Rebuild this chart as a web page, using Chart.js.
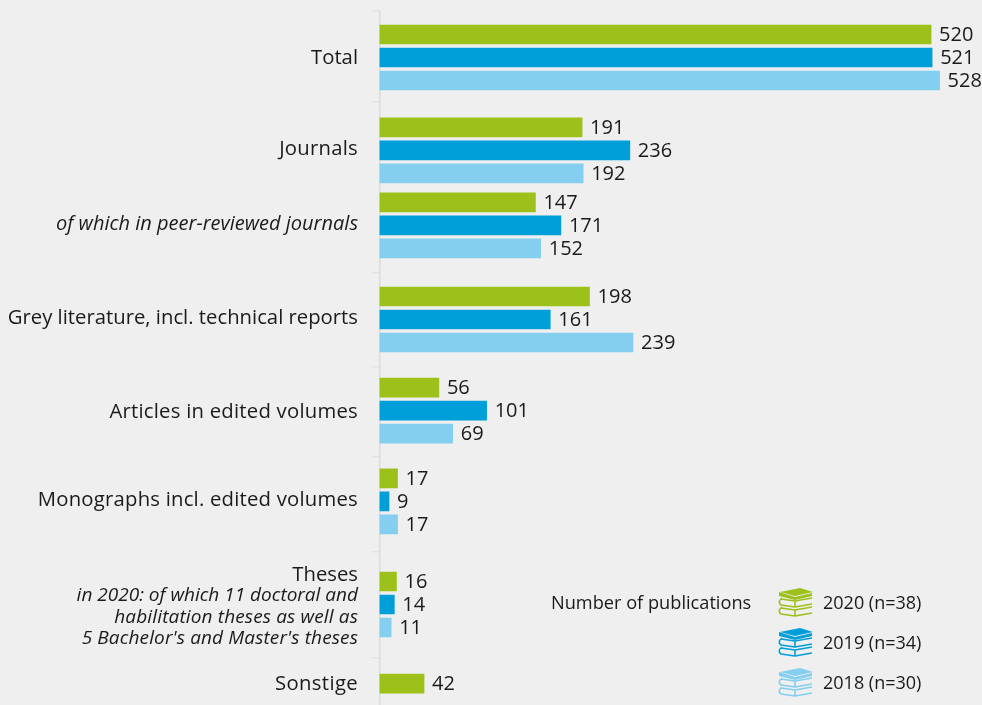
<!DOCTYPE html>
<html>
<head>
<meta charset="utf-8">
<style>
html, body { margin: 0; padding: 0; background: #efefef; overflow: hidden; }
#wrap { width: 982px; height: 705px; }
</style>
<script src="https://cdn.jsdelivr.net/npm/chart.js@4/dist/chart.umd.min.js"></script>
</head>
<body>
<div id="wrap"><canvas id="chart" width="982" height="705"></canvas></div>
<script>
// Categories and values
const categories = ['Total', 'Journals', 'of which in peer-reviewed journals',
    'Grey literature, incl. technical reports', 'Articles in edited volumes',
    'Monographs incl. edited volumes', 'Theses', 'Sonstige'];
const thesesNotes = ['in 2020: of which 11 doctoral and', 'habilitation theses as well as', "5 Bachelor's and Master's theses"];
const values2020 = [520, 191, 147, 198, 56, 17, 16, 42];
const values2019 = [521, 236, 171, 161, 101, 9, 14, null];
const values2018 = [528, 192, 152, 239, 69, 17, 11, null];
const legendTitle = 'Number of publications';
const seriesLabels = ['2020 (n=38)', '2019 (n=34)', '2018 (n=30)'];

// Groups are not evenly spaced in the original, so the y axis is linear (1 unit = one bar pitch)
const groupSlots = [0, 4.04, 7.3, 11.39, 15.35, 19.3, 23.78, 27.22];
const separatorSlots = [-2.02, 1.93, 9.37, 13.46, 17.37, 21.5, 26.11];
// Small vertical shift of each category name against its group, in px
const labelNudge = [0, -2, -2, -2, 1, -2, -30, 0];
// Letter spacing per name, so the text runs as wide as in the original
const labelSpacing = [0, 0.25, 0, 0, 0.24, 0.22, 0, 0.35];
const noteSpacing = [0, 0.14, 0.13];

const colors = ['#9dc11a', '#009fd9', '#84cfef'];
const textColor = '#1a1a1a';
const fontFamily = '"Open Sans", "Noto Sans", sans-serif';

// A group with only one bar keeps that bar on the group centre
function barPoints(values, shift) {
    return values.map((v, i) => ({
        x: v,
        y: groupSlots[i] + (values2019[i] === null ? 0 : shift)
    }));
}

// Category names left of the axis
const categoryLabels = {
    id: 'categoryLabels',
    afterDraw(chart) {
        const { ctx, scales: { y } } = chart;
        ctx.save();
        ctx.textAlign = 'right';
        ctx.textBaseline = 'middle';
        ctx.fillStyle = textColor;
        categories.forEach((name, i) => {
            const py = y.getPixelForValue(groupSlots[i]) + labelNudge[i] + 1;
            ctx.font = (i === 2 ? 'italic 20px ' : '20.3px ') + fontFamily;
            ctx.letterSpacing = labelSpacing[i] + 'px';
            ctx.fillText(name, 358, py);
        });
        ctx.font = 'italic 19px ' + fontFamily;
        const base = y.getPixelForValue(groupSlots[6]);
        thesesNotes.forEach((line, i) => {
            ctx.letterSpacing = noteSpacing[i] + 'px';
            ctx.fillText(line, 358, base - 9 + i * 21.7);
        });
        ctx.restore();
    }
};

// Values at the end of each bar
const valueLabels = {
    id: 'valueLabels',
    afterDatasetsDraw(chart) {
        const { ctx } = chart;
        ctx.save();
        ctx.font = '20px ' + fontFamily;
        ctx.fillStyle = textColor;
        ctx.textBaseline = 'middle';
        chart.data.datasets.forEach((ds, d) => {
            chart.getDatasetMeta(d).data.forEach((bar, i) => {
                if (ds.data[i].x === null) return;
                ctx.fillText(ds.data[i].x, bar.x + 8, bar.y + 1);
            });
        });
        ctx.restore();
    }
};

// Stack of three books, used as legend key
function drawBooks(ctx, x, y, color) {
    ctx.save();
    ctx.translate(x, y);
    ctx.strokeStyle = color;
    ctx.fillStyle = color;
    ctx.lineWidth = 1.6;
    ctx.lineJoin = 'round';
    // top cover and spine
    ctx.beginPath();
    ctx.moveTo(2, 4); ctx.lineTo(22, 0); ctx.lineTo(35, 4); ctx.lineTo(17, 8);
    ctx.closePath();
    ctx.fill();
    ctx.beginPath();
    ctx.moveTo(1, 4); ctx.lineTo(1, 8); ctx.lineTo(17, 12); ctx.lineTo(34, 8); ctx.lineTo(34, 5); ctx.lineTo(17, 9);
    ctx.closePath();
    ctx.fill();
    // two open books below
    [10, 19].forEach(top => {
        ctx.beginPath();
        ctx.moveTo(4, top);
        ctx.quadraticCurveTo(-1, top + 4, 3, top + 7);
        ctx.lineTo(17, top + 9);
        ctx.lineTo(34, top + 6);
        ctx.moveTo(17, top + 3);
        ctx.lineTo(34, top);
        ctx.moveTo(3, top + 1);
        ctx.lineTo(17, top + 3);
        ctx.lineTo(17, top + 9);
        ctx.stroke();
    });
    ctx.restore();
}

const legendBlock = {
    id: 'legendBlock',
    afterDraw(chart) {
        const { ctx } = chart;
        ctx.save();
        ctx.font = '18.2px ' + fontFamily;
        ctx.fillStyle = textColor;
        ctx.textBaseline = 'middle';
        ctx.fillText(legendTitle, 551, 604);
        ctx.font = '18px ' + fontFamily;
        seriesLabels.forEach((label, i) => {
            const py = 604 + i * 40;
            drawBooks(ctx, 778, py - 16, colors[i]);
            ctx.fillStyle = textColor;
            ctx.fillText(label, 823, py);
        });
        ctx.restore();
    }
};

new Chart(document.getElementById('chart'), {
    type: 'bar',
    data: {
        datasets: [
            { label: seriesLabels[0], data: barPoints(values2020, -1), backgroundColor: colors[0] },
            { label: seriesLabels[1], data: barPoints(values2019, 0), backgroundColor: colors[1] },
            { label: seriesLabels[2], data: barPoints(values2018, 1), backgroundColor: colors[2] }
        ]
    },
    options: {
        indexAxis: 'y',
        responsive: false,
        animation: false,
        layout: { padding: { top: 11, left: 0, right: 0, bottom: 0 } },
        parsing: { xAxisKey: 'x', yAxisKey: 'y' },
        datasets: { bar: { barThickness: 19, grouped: false } },
        plugins: { legend: { display: false }, tooltip: { enabled: false } },
        scales: {
            x: { min: 0, max: 568, display: false },
            y: {
                type: 'linear',
                reverse: true,
                offset: false,
                bounds: 'data',
                min: -2.02,
                max: 28.15,
                afterFit(scale) { scale.width = 379.5; },
                afterBuildTicks(scale) { scale.ticks = separatorSlots.map(v => ({ value: v })); },
                ticks: { display: false },
                border: { color: '#dcdcdc', width: 1.5 },
                grid: { drawOnChartArea: false, color: '#e2e2e2', tickLength: 8, lineWidth: 1.5, offset: false }
            }
        }
    },
    plugins: [categoryLabels, valueLabels, legendBlock]
});
</script>
</body>
</html>
